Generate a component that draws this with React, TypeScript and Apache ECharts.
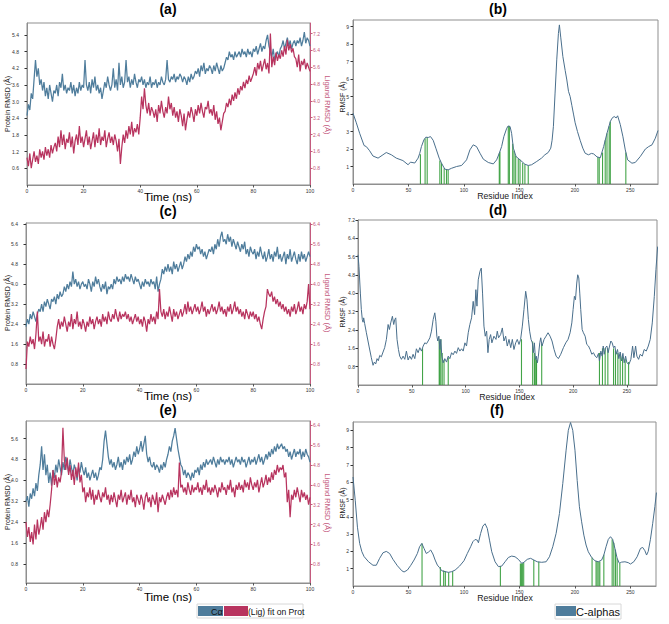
import React, { useEffect, useRef } from 'react';
import * as echarts from 'echarts';

// ---------- sampling ----------
const TIME_STEP = 0.5; // ns between RMSD samples
const timeTicks = [0, 20, 40, 60, 80, 100];
const residueTicks = [0, 50, 100, 150, 200, 250];

// ---------- tick labels ----------
const aProtTicks = [0.6, 1.2, 1.8, 2.4, 3.0, 3.6, 4.2, 4.8, 5.4];
const aLigTicks = [0.8, 1.6, 2.4, 3.2, 4.0, 4.8, 5.6, 6.4, 7.2];
const cProtTicks = [0.8, 1.6, 2.4, 3.2, 4.0, 4.8, 5.6, 6.4];
const cLigTicks = [0.8, 1.6, 2.4, 3.2, 4.0, 4.8, 5.6, 6.4];
const eProtTicks = [0.8, 1.6, 2.4, 3.2, 4.0, 4.8, 5.6];
const eLigTicks = [0.8, 1.6, 2.4, 3.2, 4.0, 4.8, 5.6, 6.4];
const bRmsfTicks = [1, 2, 3, 4, 5, 6, 7, 8, 9];
const dRmsfTicks = [0.8, 1.6, 2.4, 3.2, 4.0, 4.8, 5.6, 6.4, 7.2];
const fRmsfTicks = [1, 2, 3, 4, 5, 6, 7, 8, 9];

// ---------- (a) RMSD ----------
const aProt = [
  2.5, 2.9, 2.7, 3.3, 3.1, 3.8, 4.5, 3.9, 4.2, 3.6,
  3.8, 3.4, 3.7, 3.2, 3.5, 3.1, 3.6, 3.3, 3.0, 3.4,
  3.3, 3.6, 3.2, 3.7, 3.5, 4.0, 3.4, 3.6, 3.3, 3.5,
  3.4, 3.7, 3.3, 3.6, 3.2, 3.5, 3.3, 3.7, 3.4, 3.6,
  3.5, 4.5, 3.6, 3.4, 3.7, 3.3, 3.8, 3.5, 3.9, 3.4,
  3.6, 3.3, 3.5, 3.1, 3.4, 3.7, 3.5, 3.9, 3.6, 3.4,
  3.6, 4.2, 3.5, 3.8, 3.4, 4.4, 3.6, 3.9, 3.5, 3.7,
  4.5, 3.7, 3.9, 3.5, 3.8, 3.6, 4.0, 3.7, 3.5, 3.8,
  3.7, 3.9, 3.6, 3.8, 3.5, 3.7, 3.6, 3.9, 3.5, 3.7,
  3.6, 3.8, 3.5, 3.7, 3.6, 3.9, 3.7, 3.6, 3.8, 4.5,
  3.8, 3.7, 3.9, 3.8, 4.0, 3.7, 3.9, 3.8, 4.0, 3.9,
  3.7, 3.9, 3.8, 3.6, 3.9, 3.7, 4.0, 3.8, 3.9, 4.1,
  4.0, 4.2, 3.9, 4.3, 4.1, 4.4, 4.0, 4.2, 4.1, 4.3,
  4.2, 4.0, 4.3, 4.1, 4.4, 4.2, 4.0, 4.3, 4.1, 4.2,
  4.4, 4.6, 4.5, 4.8, 4.6, 4.7, 4.5, 4.8, 4.6, 4.7,
  4.8, 4.6, 4.9, 4.7, 4.8, 4.6, 4.9, 4.7, 4.8, 4.6,
  4.9, 4.8, 5.0, 4.7, 4.9, 5.1, 4.8, 5.0, 4.9, 5.2,
  5.4, 5.0, 4.8, 4.6, 4.9, 4.5, 4.7, 4.8, 4.6, 4.9,
  5.0, 5.2, 4.9, 5.1, 5.3, 5.0, 5.2, 4.9, 5.1, 5.2,
  5.0, 5.2, 5.1, 5.3, 5.0, 5.2, 5.5, 5.1, 5.3, 5.2,
  5.0,
];
const aLig = [
  1.3, 0.9, 1.5, 0.8, 1.2, 1.6, 1.1, 1.4, 1.0, 1.7,
  1.3, 1.6, 1.2, 1.8, 1.4, 1.7, 1.3, 1.9, 1.5, 1.8,
  2.0, 1.6, 2.3, 1.8, 2.6, 1.9, 2.4, 1.7, 2.2, 2.0,
  2.5, 1.8, 2.3, 1.5, 2.1, 2.4, 1.9, 2.8, 2.0, 2.3,
  1.8, 2.2, 2.6, 1.9, 2.3, 1.7, 2.1, 2.5, 1.8, 2.4,
  2.0, 2.7, 1.9, 2.3, 2.1, 2.6, 1.8, 2.2, 2.5, 2.0,
  2.3, 1.9, 2.4, 2.1, 1.6, 2.2, 1.0, 1.8, 2.4, 2.0,
  2.6, 2.2, 2.8, 2.4, 3.0, 2.3, 2.7, 2.5, 2.9, 2.4,
  3.2, 4.2, 3.6, 4.6, 3.8, 3.4, 3.9, 3.3, 3.7, 3.5,
  3.2, 3.6, 3.0, 3.8, 3.4, 4.0, 3.5, 3.2, 3.7, 3.4,
  4.2, 3.6, 3.9, 3.3, 3.7, 3.2, 3.5, 3.0, 3.6, 3.3,
  2.8, 3.4, 2.6, 3.1, 3.5, 3.2, 3.7, 3.4, 3.0, 3.6,
  3.3, 3.8, 3.4, 3.9, 3.5, 3.2, 3.7, 3.6, 4.0, 3.4,
  3.6, 3.3, 3.8, 3.1, 3.5, 2.9, 3.2, 2.6, 3.0, 3.4,
  3.5, 3.9, 3.7, 4.1, 3.8, 4.3, 4.0, 4.4, 4.1, 4.6,
  4.3, 4.7, 4.5, 4.9, 4.6, 5.0, 4.8, 5.2, 4.9, 5.1,
  5.3, 5.6, 5.2, 5.8, 5.5, 5.9, 5.4, 5.7, 6.0, 5.5,
  5.8, 5.3, 7.2, 5.6, 6.1, 5.7, 6.3, 5.9, 6.2, 6.0,
  6.4, 6.1, 6.6, 6.2, 6.9, 6.4, 6.7, 6.3, 6.5, 6.1,
  6.0, 5.6, 6.2, 5.4, 5.9, 5.7, 6.0, 5.5, 5.8, 5.6,
  5.4,
];

// ---------- (c) RMSD ----------
const cProt = [
  2.3, 2.6, 2.4, 2.8, 2.6, 2.9, 2.7, 2.5, 2.8, 3.0,
  2.9, 3.2, 2.9, 3.3, 3.1, 3.4, 3.2, 3.0, 3.4, 3.3,
  3.5, 3.2, 3.6, 3.4, 3.7, 3.5, 3.6, 3.9, 3.7, 4.0,
  3.8, 4.1, 3.9, 4.5, 4.0, 4.2, 3.9, 4.1, 3.8, 4.0,
  4.1, 3.9, 4.0, 3.8, 4.2, 4.0, 3.7, 4.1, 3.9, 4.3,
  4.0, 4.2, 3.9, 3.7, 4.0, 3.8, 4.1, 3.6, 3.9, 3.8,
  4.0, 3.8, 4.2, 4.0, 4.3, 4.1, 4.2, 4.0, 4.3, 4.1,
  4.4, 4.2, 4.3, 4.1, 4.4, 4.2, 4.0, 4.3, 4.1, 4.2,
  4.0, 3.8, 4.1, 3.9, 4.2, 4.0, 4.1, 3.9, 4.2, 4.0,
  4.1, 3.8, 4.3, 3.7, 4.0, 4.2, 4.6, 4.4, 4.7, 4.5,
  4.8, 4.5, 4.7, 4.4, 4.9, 4.6, 4.8, 4.5, 4.7, 4.9,
  4.6, 4.8, 5.1, 4.9, 5.2, 5.0, 5.3, 5.1, 5.5, 5.3,
  5.6, 5.4, 5.5, 5.2, 5.4, 5.1, 5.3, 5.0, 5.2, 5.4,
  5.3, 5.5, 5.2, 5.6, 5.4, 5.8, 5.5, 5.9, 6.1, 5.7,
  5.8, 5.6, 6.0, 5.7, 5.9, 5.5, 5.8, 5.6, 5.4, 5.7,
  5.5, 5.3, 5.6, 5.4, 5.7, 5.2, 5.4, 5.1, 5.5, 5.3,
  5.2, 5.4, 5.0, 5.3, 5.1, 5.5, 5.2, 5.0, 5.3, 4.9,
  5.1, 5.4, 5.0, 5.2, 4.9, 5.3, 5.1, 5.5, 5.0, 5.2,
  4.9, 5.1, 5.3, 4.8, 5.2, 5.0, 5.4, 4.9, 5.1, 5.3,
  5.0, 4.8, 5.2, 4.9, 5.3, 5.0, 5.2, 4.9, 5.1, 5.3,
  5.1,
];
const cLig = [
  0.6, 1.7, 1.5, 1.9, 1.6, 1.8, 1.4, 2.0, 2.9, 1.7,
  1.9, 1.6, 2.1, 1.5, 1.8, 1.7, 2.0, 1.5, 1.9, 1.6,
  1.4, 1.8, 2.3, 2.6, 2.2, 2.5, 2.3, 2.7, 2.4, 2.1,
  2.5, 2.3, 2.8, 2.2, 2.6, 2.4, 2.9, 2.3, 2.5, 2.2,
  2.6, 2.4, 2.1, 2.5, 2.3, 2.7, 2.4, 2.6, 2.2, 2.5,
  2.7, 2.4, 2.6, 2.3, 2.8, 2.5, 2.7, 2.4, 2.9, 2.6,
  2.5, 2.8, 2.6, 3.0, 2.7, 2.5, 2.9, 2.6, 2.8, 2.7,
  2.9, 2.6, 2.8, 2.5, 2.7, 2.4, 2.6, 2.8, 2.5, 2.7,
  2.4, 2.6, 2.3, 2.7, 2.5, 2.1, 2.6, 2.4, 2.8, 2.5,
  2.7, 2.4, 2.9, 2.6, 3.8, 2.9, 2.7, 3.0, 2.6, 2.9,
  2.7, 3.1, 2.8, 2.5, 3.0, 2.7, 2.9, 2.6, 2.8, 3.0,
  2.7, 2.9, 3.2, 2.8, 3.3, 2.9, 3.1, 2.8, 3.0, 3.2,
  2.9, 3.1, 2.8, 3.0, 3.3, 2.9, 3.1, 2.7, 3.0, 2.8,
  3.0, 3.2, 2.9, 3.1, 2.8, 3.0, 3.3, 2.9, 3.1, 2.8,
  3.0, 2.7, 3.1, 2.9, 3.2, 2.8, 3.0, 3.3, 2.9, 3.1,
  2.8, 3.0, 2.7, 2.9, 2.6, 3.0, 2.8, 2.6, 2.9, 2.7,
  2.9, 2.6, 2.8, 2.5, 2.7, 2.4, 2.2, 2.6, 2.9, 3.1,
  3.8, 3.6, 3.5, 3.7, 3.3, 3.5, 3.2, 3.4, 3.1, 3.3,
  3.0, 3.2, 2.9, 3.1, 2.8, 3.0, 2.7, 3.1, 2.9, 3.2,
  2.8, 3.0, 3.3, 2.9, 3.1, 2.8, 3.2, 3.0, 3.3, 4.0,
  3.0,
];

// ---------- (e) RMSD ----------
const eProt = [
  3.2, 3.4, 3.0, 3.5, 3.3, 3.7, 3.4, 3.9, 3.6, 4.2,
  4.6, 5.3, 4.4, 5.0, 4.2, 4.6, 3.9, 4.3, 3.8, 4.4,
  4.1, 4.6, 4.3, 4.8, 4.5, 4.2, 4.7, 4.4, 4.9, 4.6,
  4.3, 4.8, 4.5, 4.2, 4.6, 4.4, 4.0, 4.5, 4.3, 4.7,
  4.4, 4.2, 4.5, 4.1, 4.3, 4.0, 4.2, 4.4, 4.1, 4.3,
  4.0, 4.2, 4.5, 4.4, 4.8, 5.5, 5.9, 5.4, 4.9, 4.6,
  4.8, 4.5, 4.7, 4.4, 4.6, 4.9, 4.5, 4.7, 4.4, 4.8,
  4.6, 4.9, 4.7, 5.0, 4.6, 4.8, 5.1, 4.9, 5.3, 5.0,
  5.2, 5.5, 5.1, 5.4, 5.7, 5.0, 4.7, 4.9, 4.6, 4.5,
  4.7, 4.4, 4.6, 4.5, 4.3, 4.6, 4.4, 4.7, 4.5, 4.8,
  5.0, 5.3, 5.1, 5.5, 5.7, 6.0, 5.6, 5.2, 4.9, 4.6,
  4.5, 4.2, 4.4, 4.1, 4.3, 4.2, 4.0, 4.3, 4.1, 4.4,
  4.3, 4.5, 4.2, 4.6, 4.4, 4.7, 4.5, 4.8, 4.6, 4.7,
  4.8, 4.6, 4.9, 4.7, 4.5, 4.8, 4.6, 4.9, 4.7, 4.8,
  4.6, 4.8, 4.7, 4.9, 4.6, 4.8, 4.5, 4.7, 4.9, 4.7,
  4.8, 4.6, 4.9, 4.7, 4.8, 4.5, 4.7, 4.9, 4.6, 4.8,
  4.7, 4.9, 4.6, 4.8, 5.0, 4.7, 4.9, 4.6, 4.8, 5.0,
  4.8, 5.1, 4.9, 5.2, 5.0, 5.3, 5.1, 5.4, 5.2, 5.3,
  5.4, 5.2, 5.3, 5.1, 5.2, 4.9, 5.1, 4.8, 5.0, 5.2,
  4.9, 5.1, 5.0, 5.2, 4.8, 5.1, 4.9, 5.2, 5.0, 4.9,
  4.7,
];
const eLig = [
  2.5, 1.9, 2.3, 1.7, 2.1, 1.6, 2.4, 1.8, 2.6, 2.0,
  2.3, 2.7, 2.2, 2.9, 2.5, 3.0, 2.7, 3.2, 3.8, 4.6,
  4.0, 4.4, 3.9, 4.3, 4.1, 4.5, 6.3, 5.0, 4.6, 5.1,
  4.4, 4.8, 4.2, 4.6, 4.0, 4.7, 4.3, 4.9, 4.1, 4.4,
  3.7, 3.9, 3.3, 3.7, 3.5, 3.9, 3.4, 3.8, 3.2, 3.6,
  3.4, 3.8, 3.5, 3.3, 3.7, 3.5, 3.9, 3.4, 3.6, 3.2,
  3.6, 3.3, 3.7, 3.4, 3.1, 3.6, 3.4, 3.8, 3.3, 3.5,
  3.7, 3.2, 3.6, 3.4, 3.8, 3.3, 3.5, 3.1, 3.6, 3.4,
  3.2, 3.6, 3.4, 3.0, 3.5, 3.7, 3.3, 3.5, 3.1, 3.6,
  3.4, 3.2, 3.7, 2.9, 3.5, 3.3, 3.6, 3.4, 3.2, 3.5,
  3.7, 3.4, 3.8, 3.5, 3.9, 3.6, 3.8, 3.5, 4.9, 3.9,
  4.0, 3.7, 3.9, 3.6, 4.1, 3.8, 3.6, 4.0, 3.7, 3.9,
  3.8, 4.1, 3.7, 3.9, 3.6, 4.0, 3.8, 4.2, 3.7, 3.9,
  3.6, 3.9, 3.7, 4.0, 3.8, 3.5, 3.9, 3.7, 4.1, 3.8,
  3.9, 3.6, 4.0, 3.8, 4.2, 3.7, 3.9, 3.5, 4.0, 3.8,
  4.1, 3.8, 4.0, 3.7, 4.2, 3.9, 4.1, 3.8, 4.3, 4.0,
  3.8, 4.1, 3.9, 4.2, 3.7, 4.0, 4.3, 3.9, 4.1, 4.4,
  4.0, 4.3, 4.1, 4.5, 4.2, 4.6, 4.4, 4.8, 4.5, 4.7,
  4.6, 4.8, 4.3, 4.5, 3.3, 3.8, 2.7, 3.6, 3.4, 3.8,
  3.5, 3.9, 3.6, 3.3, 3.8, 3.5, 3.7, 3.4, 3.6, 3.2,
  3.5,
];

// ---------- RMSF [residue, RMSF] ----------
const rmsfB = [
  [0, 4.05], [3, 3.5], [6, 2.9], [10, 2.2], [12, 2.14], [15, 1.9], [18, 1.6], [22.6, 1.48], [27, 1.67], [30, 1.8],
  [34.6, 1.67], [39, 1.48], [45, 1.34], [49.7, 1.1], [51.8, 1.25], [55.7, 1.2], [58.7, 1.48], [60.2, 1.76], [61.7, 2.14], [63.9, 2.52],
  [65.7, 2.68], [67.8, 2.66], [69.9, 2.71], [72.3, 2.5], [74.7, 2.05], [77.7, 1.48], [79.8, 1.19], [82.8, 0.85], [85.8, 0.81], [88.9, 0.9],
  [93.4, 1.0], [97.9, 1.06], [102.4, 1.38], [105.4, 1.95], [108.4, 2.24], [111.4, 2.14], [114.5, 1.76], [117.5, 1.42], [122, 1.23], [126.5, 1.15],
  [129.5, 1.38], [131.9, 1.76], [134, 2.14], [136, 2.71], [138.6, 3.19], [140, 3.32], [141.6, 3.29], [143, 2.9], [144.6, 2.05], [147, 1.57],
  [150.6, 1.38], [155, 1.13], [158, 1.06], [161, 1.1], [165.7, 1.29], [170, 1.48], [173, 1.67], [176, 1.8], [178.3, 2.05], [179.5, 2.5],
  [180.7, 3.3], [182.2, 5.2], [183.7, 7.1], [185.2, 8.6], [186.1, 9.1], [187.3, 8.4], [189.2, 7.3], [191.3, 6.5], [192.8, 5.95], [194.3, 5.3],
  [195.8, 5.0], [197.3, 4.5], [198.8, 4.0], [200.3, 3.5], [202.4, 3.0], [204.8, 2.5], [207.2, 2.05], [209.3, 1.76], [212.3, 1.67], [215, 1.75],
  [217, 1.72], [220, 1.55], [223, 1.5], [226, 2.14], [229, 2.9], [232, 3.57], [233.5, 3.76], [235.5, 3.86], [237.3, 3.78], [238.6, 3.9],
  [241, 3.4], [243.4, 2.7], [245.5, 1.95], [247.6, 1.38], [251.5, 1.19], [254.5, 1.23], [259, 1.57], [263.6, 2.0], [266.6, 2.14], [269.6, 2.24],
  [272.6, 2.62], [275, 3.06],
];
const contactsB = [
  [60.8, 1.7], [65, 2.6], [66.9, 2.68], [78.3, 1.35], [79.8, 1.19], [82.2, 0.9], [84.3, 0.83], [85.8, 0.81],
  [131.9, 1.76], [132.5, 1.85], [140, 3.32], [141, 3.3], [144, 2.3], [145.2, 1.9], [146.7, 1.6], [149, 1.45],
  [150.6, 1.38], [153, 1.2], [155, 1.13], [158, 1.06], [220.8, 1.55], [222, 1.5], [225, 1.8], [227.4, 2.5],
  [229, 2.9], [231, 3.3], [232, 3.57], [246, 1.8],
];

const rmsfD = [
  [0, 5.68], [0.9, 5.17], [2.2, 4.01], [3.1, 3.29], [4.0, 2.86], [4.7, 2.74], [5.3, 2.93], [6.2, 2.68], [7.8, 2.28], [10.2, 1.7],
  [12.4, 1.19], [14, 0.86], [15.2, 1.0], [16.5, 0.92], [17.7, 1.15], [18.9, 1.06], [20.2, 1.29], [21.7, 1.23], [23.3, 1.44], [24.8, 1.63],
  [26.4, 1.99], [28, 2.64], [29.2, 2.42], [30.4, 2.71], [32, 3.0], [33.2, 2.64], [34.2, 2.86], [35.1, 2.93], [36.3, 1.99], [37.6, 1.55],
  [38.8, 1.26], [40.4, 1.12], [41.9, 1.26], [43.5, 1.12], [45, 1.48], [46.6, 1.09], [48.1, 1.26], [49.7, 1.12], [51.2, 1.34], [52.8, 1.15],
  [54.3, 1.58], [55.9, 1.41], [57.5, 1.63], [59, 1.48], [60.6, 1.7], [62.1, 1.84], [63.7, 1.8], [65.2, 1.92], [66.8, 2.06], [68.3, 2.35],
  [69.9, 2.86], [71.4, 3.15], [72.4, 2.78], [73.3, 2.13], [74.2, 1.92], [75.2, 2.13], [76.1, 1.55], [77, 1.99], [77.9, 1.26], [79.2, 0.97],
  [80.7, 1.15], [82.3, 1.0], [83.9, 1.26], [85.4, 1.15], [87, 1.41], [88.5, 1.32], [90.1, 1.48], [91.6, 1.38], [93.2, 1.63], [94.7, 1.48],
  [96.3, 1.58], [97.8, 1.48], [99.4, 1.84], [100.9, 1.7], [102.5, 2.28], [104, 2.64], [105.6, 2.93], [107.1, 3.65], [108.4, 3.07], [109.6, 4.16],
  [110.6, 3.44], [111.8, 4.59], [113.4, 4.96], [114.6, 5.1], [115.8, 4.01], [117.1, 2.57], [118.3, 2.13], [119.6, 2.35], [120.8, 1.41], [122, 1.99],
  [123.3, 2.2], [124.5, 1.84], [126.4, 2.13], [128.3, 1.99], [129.5, 2.35], [130.7, 2.06], [132.6, 2.2], [134.2, 2.49], [135.7, 1.92], [137.3, 2.13],
  [138.8, 1.7], [140.4, 1.99], [142, 1.63], [143.5, 1.99], [145, 1.55], [146.6, 1.84], [148.1, 1.99], [149.7, 1.77], [151.2, 1.99], [152.8, 2.57],
  [154.3, 3.29], [155.9, 4.09], [157.1, 3.72], [158.4, 2.86], [159.6, 2.35], [160.9, 1.99], [162.1, 1.84], [163, 1.41], [164, 1.84], [165, 1.12],
  [165.8, 1.26], [166.8, 0.97], [167.7, 1.26], [169, 1.84], [169.9, 2.06], [171.1, 1.7], [173, 1.99], [174.8, 2.13], [176.7, 2.28], [178.6, 2.13],
  [180.4, 1.92], [182.3, 1.55], [184.2, 1.26], [186.3, 1.15], [188.5, 1.34], [191, 1.63], [193.2, 1.84], [195.3, 1.99], [197.2, 2.28], [198.8, 2.71],
  [200, 3.29], [201.2, 3.87], [202.2, 3.72], [203.4, 4.45], [204.3, 4.81], [205.3, 4.67], [206.2, 4.01], [207.1, 3.29], [208.4, 2.42], [209.6, 2.28],
  [211.2, 2.13], [212.7, 1.77], [214.3, 1.7], [215.8, 1.55], [217.4, 1.34], [218.9, 1.41], [220.5, 1.26], [222, 1.19], [223.6, 1.38], [224.5, 1.05],
  [225.8, 1.48], [227, 1.26], [228, 1.7], [228.9, 1.34], [230.1, 1.63], [231.4, 1.7], [232.6, 1.41], [233.9, 1.7], [235.1, 1.92], [236.3, 1.84],
  [237.6, 1.63], [238.8, 1.7], [240, 1.34], [241.3, 1.55], [242.5, 1.15], [243.8, 1.44], [245, 1.05], [246.3, 1.38], [247.5, 0.97], [248.8, 1.26],
  [250, 0.97], [251.9, 0.9], [253.7, 1.12], [255.3, 1.7], [256.5, 1.19], [258.1, 1.7], [259.3, 1.26], [260.9, 1.12], [262.4, 1.34], [264.3, 1.26],
  [266.1, 1.55], [268, 1.48], [269.9, 1.7], [271.7, 1.99], [273.6, 2.71], [275.5, 3.87], [277, 5.03], [278.6, 6.04],
];
const contactsD = [
  [60, 1.6], [75.5, 2.0], [76, 1.9], [77, 2.0], [78.3, 1.4], [80, 1.1], [83.9, 1.2], [152, 2.0], [162.4, 1.9],
  [164, 1.4], [164.6, 1.15], [165.5, 1.2], [166, 1.1], [170.8, 1.8], [224.5, 1.4], [227.3, 1.6], [229.8, 1.6],
  [232.3, 1.6], [237.6, 1.6], [239.4, 1.5], [241.6, 1.4], [243.8, 1.35], [246, 1.25], [248.4, 1.15], [251.6, 1.0],
];

const rmsfF = [
  [0, 6.3], [2, 4.96], [4, 3.4], [6, 2.46], [8, 1.98], [10, 1.7], [14, 1.4], [18, 1.2], [21, 1.2], [24, 1.6],
  [27, 1.92], [30, 2.0], [33, 1.88], [36, 1.54], [40, 1.17], [44, 0.88], [46, 0.81], [49, 0.92], [52, 1.19], [55, 1.5],
  [58, 1.88], [60, 2.27], [62, 2.46], [64, 2.17], [66, 1.88], [68, 1.96], [70, 2.08], [72, 1.85], [74, 1.5], [76, 1.21],
  [78, 1.06], [80, 0.88], [83, 0.83], [86, 0.79], [89, 0.83], [92, 0.92], [96, 1.15], [100, 1.46], [103, 1.88], [106, 2.27],
  [108, 2.56], [110, 2.69], [112, 2.65], [113, 2.5], [115, 3.04], [117, 3.46], [119, 3.6], [121, 3.33], [123, 2.65], [125, 1.98],
  [128, 1.4], [131, 1.12], [134, 1.15], [137, 1.4], [140, 1.65], [143, 1.73], [146, 1.69], [149, 1.54], [152, 1.31], [154, 1.37],
  [157, 1.54], [160, 1.6], [163, 1.5], [166, 1.4], [170, 1.37], [174, 1.4], [177, 1.69], [180, 2.27], [183, 3.04], [186, 4.19],
  [189, 5.92], [192, 7.85], [194, 9.0], [196, 9.45], [198, 9.0], [200, 7.85], [202, 6.1], [204, 4.58], [206, 3.71], [208, 2.94],
  [210, 2.37], [212, 1.98], [215, 1.65], [218, 1.46], [221, 1.4], [224, 1.5], [226, 1.79], [228, 2.27], [230, 2.69], [232, 2.85],
  [234, 2.69], [236, 2.17], [238, 1.6], [240, 1.31], [242, 1.38], [245, 1.4], [248, 1.35], [250, 1.27], [253, 1.4], [256, 1.69],
  [259, 2.17], [261, 2.23], [263, 2.04], [264.5, 1.79], [266, 2.0], [268, 2.7], [270, 3.6], [272, 4.6], [273.4, 5.4],
];
const contactsF = [
  [62.2, 2.45], [78.7, 1.1], [81.7, 0.9], [83.2, 0.85], [86.2, 0.8], [89.8, 0.85], [132.8, 1.15], [150.8, 1.3],
  [151.7, 1.3], [152.6, 1.32], [153.8, 1.35], [162.9, 1.5], [167.4, 1.4], [215.4, 1.65], [219, 1.45], [220, 1.45],
  [221.5, 1.42], [222.4, 1.42], [226, 1.8], [233.5, 2.7], [235, 2.5], [236.5, 2.1], [238, 1.6], [240.4, 1.3],
];

// ---------- styling ----------
const FONT = '"Liberation Sans", Arial, sans-serif';
const BLUE = '#4f7d9c';
const RMSF_BLUE = '#4a6f8c';
const RED = '#b8345f';
const PINK_AXIS = '#c45a7e';
const GREEN = '#2f9a34';
const FRAME = '#8f8f8f';
const TICK_TXT = '#333333';

const toSeries = (arr: number[]) => arr.map((v, i) => [i * TIME_STEP, v]);

function xAx(grid: number, max: number, ticks: number[]) {
  return {
    type: 'value', gridIndex: grid, min: 0, max,
    splitLine: { show: false },
    axisLine: { show: true, lineStyle: { color: FRAME, width: 1 } },
    axisTick: { show: true, length: 2.5, customValues: ticks, lineStyle: { color: '#555' } },
    axisLabel: { customValues: ticks, fontSize: 5, color: TICK_TXT, margin: 3, fontFamily: FONT },
  };
}

function yAx(grid: number, min: number, max: number, ticks: number[], side: string, color: string, dec: number, margin: number) {
  return {
    type: 'value', gridIndex: grid, position: side, min, max,
    splitLine: { show: false },
    axisLine: { show: true, lineStyle: { color: side === 'right' ? color : FRAME, width: 1 } },
    axisTick: { show: true, length: 2.5, customValues: ticks, lineStyle: { color } },
    axisLabel: {
      customValues: ticks, fontSize: 5, color, margin, fontFamily: FONT,
      formatter: (v: number) => Number(v).toFixed(dec),
    },
  };
}

function lineSeries(x: number, y: number, data: any[], color: string, width: number) {
  return {
    type: 'line', xAxisIndex: x, yAxisIndex: y, data, showSymbol: false, symbol: 'none',
    silent: true, lineStyle: { color, width }, itemStyle: { color },
  };
}

function contactSeries(x: number, y: number, data: number[][]) {
  return {
    type: 'custom', xAxisIndex: x, yAxisIndex: y, data, silent: true,
    renderItem: (_p: any, api: any) => {
      const p0 = api.coord([api.value(0), 0]);
      const p1 = api.coord([api.value(0), api.value(1)]);
      return {
        type: 'line',
        shape: { x1: p0[0], y1: p0[1], x2: p1[0], y2: p1[1] },
        style: { stroke: GREEN, lineWidth: 1.1, opacity: 0.9 },
      };
    },
  };
}

function txt(text: string, x: number, y: number, size: number, opts: any = {}) {
  return {
    type: 'text', x, y, rotation: opts.rotation || 0, silent: true,
    style: {
      text, fontSize: size, fontFamily: FONT, fontWeight: opts.bold ? 'bold' : 'normal',
      fill: opts.color || '#000', textAlign: opts.align || 'center', textVerticalAlign: 'middle',
      align: opts.align || 'center', verticalAlign: 'middle',
    },
  };
}

function buildOption() {
  const grids = [
    { left: 27, top: 23, width: 283, height: 162 },   // a
    { left: 353, top: 20, width: 305, height: 164 },  // b
    { left: 26, top: 223, width: 284, height: 161 },  // c
    { left: 358, top: 220, width: 299, height: 165 }, // d
    { left: 26, top: 421, width: 284, height: 162 },  // e
    { left: 353, top: 422, width: 303, height: 164 }, // f
  ].map((g) => ({ ...g, show: true, borderColor: FRAME, borderWidth: 1, backgroundColor: '#fff' }));

  const xAxis = [
    xAx(0, 100, timeTicks),
    xAx(1, 275, residueTicks),
    xAx(2, 100, timeTicks),
    xAx(3, 278, residueTicks),
    xAx(4, 100, timeTicks),
    xAx(5, 273, residueTicks),
  ];

  const yAxis = [
    yAx(0, 0, 5.83, aProtTicks, 'left', TICK_TXT, 1, 8),      // 0
    yAx(0, 0, 7.7, aLigTicks, 'right', PINK_AXIS, 1, 3),      // 1
    yAx(1, 0, 9.38, bRmsfTicks, 'left', TICK_TXT, 0, 4),      // 2
    yAx(2, 0, 6.45, cProtTicks, 'left', TICK_TXT, 1, 8),      // 3
    yAx(2, 0, 6.45, cLigTicks, 'right', PINK_AXIS, 1, 3),     // 4
    yAx(3, 0, 7.2, dRmsfTicks, 'left', TICK_TXT, 1, 3),       // 5
    yAx(4, 0.08, 6.27, eProtTicks, 'left', TICK_TXT, 1, 8),   // 6
    yAx(4, 0.05, 6.57, eLigTicks, 'right', PINK_AXIS, 1, 3),  // 7
    yAx(5, 0, 9.48, fRmsfTicks, 'left', TICK_TXT, 0, 4),      // 8
  ];

  const series = [
    lineSeries(0, 0, toSeries(aProt), BLUE, 1.25),
    lineSeries(0, 1, toSeries(aLig), RED, 1.25),
    contactSeries(1, 2, contactsB),
    lineSeries(1, 2, rmsfB, RMSF_BLUE, 1),
    lineSeries(2, 3, toSeries(cProt), BLUE, 1.25),
    lineSeries(2, 4, toSeries(cLig), RED, 1.25),
    contactSeries(3, 5, contactsD),
    lineSeries(3, 5, rmsfD, RMSF_BLUE, 1),
    lineSeries(4, 6, toSeries(eProt), BLUE, 1.25),
    lineSeries(4, 7, toSeries(eLig), RED, 1.25),
    contactSeries(5, 8, contactsF),
    lineSeries(5, 8, rmsfF, RMSF_BLUE, 1),
  ];

  const graphics: any[] = [
    txt('(a)', 168, 9, 14, { bold: true }),
    txt('(b)', 498, 9, 14, { bold: true }),
    txt('(c)', 168, 210.5, 14, { bold: true }),
    txt('(d)', 498, 210, 14, { bold: true }),
    txt('(e)', 168, 410, 14, { bold: true }),
    txt('(f)', 497, 410, 14, { bold: true }),
    txt('Time (ns)', 168, 196.5, 11.5),
    txt('Time (ns)', 168, 395.5, 11.5),
    txt('Time (ns)', 168, 597, 11.5),
    txt('Residue Index', 505, 196, 8.7, { color: '#222' }),
    txt('Residue Index', 507, 397, 8.7, { color: '#222' }),
    txt('Residue Index', 505, 598, 8.7, { color: '#222' }),
    txt('Protein RMSD (Å)', 7, 104, 7, { rotation: Math.PI / 2, color: '#222' }),
    txt('Protein RMSD (Å)', 7, 303, 7, { rotation: Math.PI / 2, color: '#222' }),
    txt('Protein RMSD (Å)', 7, 502, 7, { rotation: Math.PI / 2, color: '#222' }),
    txt('Ligand RMSD (Å)', 327, 105, 7.5, { rotation: -Math.PI / 2, color: PINK_AXIS }),
    txt('Ligand RMSD (Å)', 327, 303, 7.5, { rotation: -Math.PI / 2, color: PINK_AXIS }),
    txt('Ligand RMSD (Å)', 327, 503, 7.5, { rotation: -Math.PI / 2, color: PINK_AXIS }),
    txt('RMSF (Å)', 342, 97, 7, { rotation: Math.PI / 2, color: '#222' }),
    txt('RMSF (Å)', 342, 312, 7, { rotation: Math.PI / 2, color: '#222' }),
    txt('RMSF (Å)', 342, 503, 7, { rotation: Math.PI / 2, color: '#222' }),
    // left legend
    { type: 'rect', shape: { x: 197, y: 604, width: 106, height: 14 }, style: { fill: '#fff', stroke: '#d8d8d8', lineWidth: 1 }, silent: true },
    { type: 'rect', shape: { x: 198, y: 606, width: 25, height: 10 }, style: { fill: BLUE }, silent: true },
    { type: 'rect', shape: { x: 224, y: 606, width: 24, height: 10 }, style: { fill: RED }, silent: true },
    txt('Cα', 211, 611.5, 9, { align: 'left', color: '#111' }),
    txt('(Lig) fit on Prot', 248, 611.5, 8.6, { align: 'left', color: '#111' }),
    // right legend
    { type: 'rect', shape: { x: 555, y: 604, width: 66, height: 15 }, style: { fill: '#fff', stroke: '#d8d8d8', lineWidth: 1 }, silent: true },
    { type: 'rect', shape: { x: 556, y: 606, width: 20, height: 10 }, style: { fill: BLUE }, silent: true },
    txt('C-alphas', 576, 611.5, 11, { align: 'left', color: '#111' }),
  ];

  return {
    animation: false,
    backgroundColor: '#fff',
    grid: grids,
    xAxis,
    yAxis,
    series,
    graphic: graphics,
  };
}

export default function App() {
  const ref = useRef<HTMLDivElement>(null);
  useEffect(() => {
    if (!ref.current) return;
    const chart = echarts.init(ref.current, null, { renderer: 'svg' });
    chart.setOption(buildOption() as any);
    return () => chart.dispose();
  }, []);
  return (
    <div
      ref={ref}
      style={{ position: 'fixed', left: 0, top: 0, width: 669, height: 624, background: '#fff' }}
    />
  );
}
